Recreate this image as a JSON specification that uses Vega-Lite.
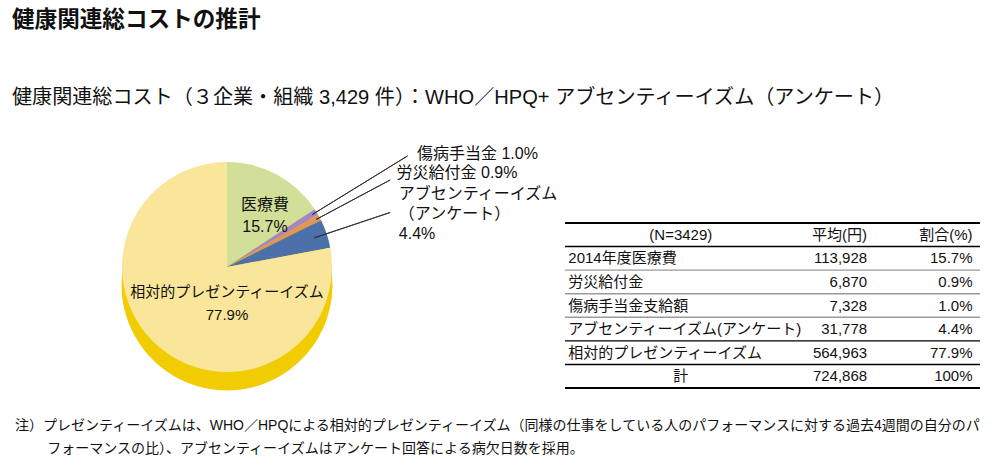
{
  "$schema": "https://vega.github.io/schema/vega-lite/v6.json",
  "padding": {"left": 12, "top": 8, "right": 5, "bottom": 0},
  "background": "white",
  "config": {
    "font": "Liberation Sans, Noto Sans CJK JP",
    "view": {"stroke": null},
    "text": {"color": "#111"}
  },
  "title": {
    "text": "健康関連総コストの推計",
    "subtitle": "健康関連総コスト（３企業・組織 3,429 件）：WHO／HPQ+ アブセンティーイズム（アンケート）",
    "anchor": "start",
    "fontSize": 22.6,
    "fontWeight": "bold",
    "color": "#111",
    "subtitleFontSize": 20.1,
    "subtitleColor": "#111",
    "subtitlePadding": 57,
    "offset": 38
  },
  "datasets": {
    "pie": [
      {"item": "医療費", "value": 113928, "order": 1, "label": "医療費\n15.7%"},
      {"item": "傷病手当金", "value": 7328, "order": 2, "label": "傷病手当金 1.0%"},
      {"item": "労災給付金", "value": 6870, "order": 3, "label": "労災給付金 0.9%"},
      {"item": "アブセンティーイズム", "value": 31778, "order": 4, "label": "アブセンティーイズム\n（アンケート）\n4.4%"},
      {"item": "相対的プレゼンティーイズム", "value": 564963, "order": 5, "label": "相対的プレゼンティーイズム\n77.9%"}
    ],
    "table": [
      {"r": 0, "label": "(N=3429)", "avg": "平均(円)", "pct": "割合(%)"},
      {"r": 1, "label": "2014年度医療費", "avg": "113,928", "pct": "15.7%"},
      {"r": 2, "label": "労災給付金", "avg": "6,870", "pct": "0.9%"},
      {"r": 3, "label": "傷病手当金支給額", "avg": "7,328", "pct": "1.0%"},
      {"r": 4, "label": "アブセンティーイズム(アンケート)", "avg": "31,778", "pct": "4.4%"},
      {"r": 5, "label": "相対的プレゼンティーイズム", "avg": "564,963", "pct": "77.9%"},
      {"r": 6, "label": "計", "avg": "724,868", "pct": "100%"}
    ],
    "note": [
      {"line": 1, "note": "注）プレゼンティーイズムは、WHO／HPQによる相対的プレゼンティーイズム（同様の仕事をしている人のパフォーマンスに対する過去4週間の自分のパ"},
      {"line": 2, "note": "フォーマンスの比）、アブセンティーイズムはアンケート回答による病欠日数を採用。"}
    ]
  },
  "spacing": 22,
  "vconcat": [
    {
      "bounds": "flush",
      "spacing": 123,
      "hconcat": [
        {
          "width": 430,
          "height": 210,
          "data": {"name": "pie"},
          "transform": [
            {"stack": "value", "groupby": [], "sort": [{"field": "order", "order": "ascending"}], "as": ["v0", "v1"]}
          ],
          "encoding": {
            "theta": {"field": "v0", "type": "quantitative", "stack": null, "scale": {"domain": [0, 724867]}},
            "theta2": {"field": "v1"}
          },
          "layer": [
            {
              "mark": {"type": "arc", "radius": 105, "yOffset": 18, "fill": "#F1CC00", "stroke": "#F1CC00", "strokeWidth": 1}
            },
            {
              "mark": {"type": "arc", "radius": 105},
              "encoding": {
                "color": {
                  "field": "item",
                  "type": "nominal",
                  "scale": {
                    "domain": ["医療費", "傷病手当金", "労災給付金", "アブセンティーイズム", "相対的プレゼンティーイズム"],
                    "range": ["#D2DF98", "#A586C4", "#E39552", "#4B70AA", "#FAE69A"]
                  },
                  "legend": null
                }
              }
            },
            {
              "transform": [{"filter": "datum.order == 2"}],
              "mark": {"type": "arc", "radius": 212, "innerRadius": 100, "padAngle": 3.14, "fillOpacity": 0, "stroke": "#333", "strokeWidth": 1}
            },
            {
              "transform": [{"filter": "datum.order == 3"}],
              "mark": {"type": "arc", "radius": 185, "innerRadius": 101, "padAngle": 3.14, "fillOpacity": 0, "stroke": "#333", "strokeWidth": 1}
            },
            {
              "transform": [{"filter": "datum.order == 4"}],
              "mark": {"type": "arc", "radius": 172, "innerRadius": 92, "padAngle": 3.14, "fillOpacity": 0, "stroke": "#333", "strokeWidth": 1}
            },
            {
              "transform": [{"filter": "datum.order == 1"}],
              "mark": {"type": "text", "radius": 62, "fontSize": 16, "lineBreak": "\n", "lineHeight": 22, "align": "center", "baseline": "middle", "dx": 38},
              "encoding": {"text": {"field": "label"}}
            },
            {
              "transform": [{"filter": "datum.order == 5"}],
              "mark": {"type": "text", "radius": 0, "fontSize": 15, "lineBreak": "\n", "lineHeight": 23, "align": "center", "baseline": "middle", "dy": 25},
              "encoding": {"text": {"field": "label"}}
            },
            {
              "transform": [{"filter": "datum.order == 2"}],
              "mark": {"type": "text", "radius": 212, "fontSize": 16, "align": "left", "baseline": "middle", "dx": 13, "dy": 4},
              "encoding": {"text": {"field": "label"}}
            },
            {
              "transform": [{"filter": "datum.order == 3"}],
              "mark": {"type": "text", "radius": 185, "fontSize": 16, "align": "left", "baseline": "middle", "dx": 9, "dy": -2},
              "encoding": {"text": {"field": "label"}}
            },
            {
              "transform": [{"filter": "datum.order == 4"}],
              "mark": {"type": "text", "radius": 175, "fontSize": 16, "lineBreak": "\n", "lineHeight": 20, "align": "left", "baseline": "middle", "dx": 15, "dy": 5},
              "encoding": {"text": {"field": "label"}}
            }
          ]
        },
        {
          "width": 415,
          "height": 226,
          "data": {"name": "table"},
          "layer": [
            {
              "mark": {"type": "rule"},
              "encoding": {
                "y": {"field": "r", "type": "ordinal", "bandPosition": 1, "scale": {"type": "band", "range": [61, 226], "paddingInner": 0, "paddingOuter": 0}, "axis": null},
                "color": {"condition": {"test": "datum.r == 1 || datum.r == 2 || datum.r == 3", "value": "#9a9a9a"}, "value": "#000"},
                "strokeWidth": {"condition": {"test": "datum.r == 6", "value": 2.2}, "value": 1.4}
              }
            },
            {
              "transform": [{"filter": "datum.r == 0"}],
              "mark": {"type": "rule", "color": "#000", "strokeWidth": 2.2},
              "encoding": {
                "y": {"field": "r", "type": "ordinal", "bandPosition": 0, "scale": {"type": "band", "range": [61, 226], "paddingInner": 0, "paddingOuter": 0}, "axis": null}
              }
            },
            {
              "transform": [{"filter": "datum.r >= 1 && datum.r <= 5"}],
              "mark": {"type": "text", "fontSize": 15, "align": "left", "baseline": "middle"},
              "encoding": {
                "y": {"field": "r", "type": "ordinal", "scale": {"type": "band", "range": [61, 226], "paddingInner": 0, "paddingOuter": 0}, "axis": null},
                "x": {"datum": 0.8, "type": "quantitative", "scale": {"domain": [0, 100]}, "axis": null},
                "text": {"field": "label"}
              }
            },
            {
              "transform": [{"filter": "datum.r == 0 || datum.r == 6"}],
              "mark": {"type": "text", "fontSize": 15, "align": "center", "baseline": "middle"},
              "encoding": {
                "y": {"field": "r", "type": "ordinal", "scale": {"type": "band", "range": [61, 226], "paddingInner": 0, "paddingOuter": 0}, "axis": null},
                "x": {"datum": 27.9, "type": "quantitative", "scale": {"domain": [0, 100]}, "axis": null},
                "text": {"field": "label"}
              }
            },
            {
              "mark": {"type": "text", "fontSize": 15, "align": "right", "baseline": "middle"},
              "encoding": {
                "y": {"field": "r", "type": "ordinal", "scale": {"type": "band", "range": [61, 226], "paddingInner": 0, "paddingOuter": 0}, "axis": null},
                "x": {"datum": 72.8, "type": "quantitative", "scale": {"domain": [0, 100]}, "axis": null},
                "text": {"field": "avg"}
              }
            },
            {
              "mark": {"type": "text", "fontSize": 15, "align": "right", "baseline": "middle"},
              "encoding": {
                "y": {"field": "r", "type": "ordinal", "scale": {"type": "band", "range": [61, 226], "paddingInner": 0, "paddingOuter": 0}, "axis": null},
                "x": {"datum": 98.2, "type": "quantitative", "scale": {"domain": [0, 100]}, "axis": null},
                "text": {"field": "pct"}
              }
            }
          ]
        }
      ]
    },
    {
      "width": 975,
      "height": 46,
      "data": {"name": "note"},
      "layer": [
        {
          "transform": [{"filter": "datum.line == 1"}],
          "mark": {"type": "text", "fontSize": 14, "align": "left", "baseline": "middle", "dx": 3},
          "encoding": {
            "y": {"field": "line", "type": "ordinal", "scale": {"type": "band", "domain": [1, 2], "paddingInner": 0, "paddingOuter": 0}, "axis": null},
            "x": {"datum": 0, "type": "quantitative", "scale": {"domain": [0, 100]}, "axis": null},
            "text": {"field": "note"}
          }
        },
        {
          "transform": [{"filter": "datum.line == 2"}],
          "mark": {"type": "text", "fontSize": 14, "align": "left", "baseline": "middle", "dx": 3},
          "encoding": {
            "y": {"field": "line", "type": "ordinal", "scale": {"type": "band", "domain": [1, 2], "paddingInner": 0, "paddingOuter": 0}, "axis": null},
            "x": {"datum": 3.3, "type": "quantitative", "scale": {"domain": [0, 100]}, "axis": null},
            "text": {"field": "note"}
          }
        }
      ]
    }
  ]
}
